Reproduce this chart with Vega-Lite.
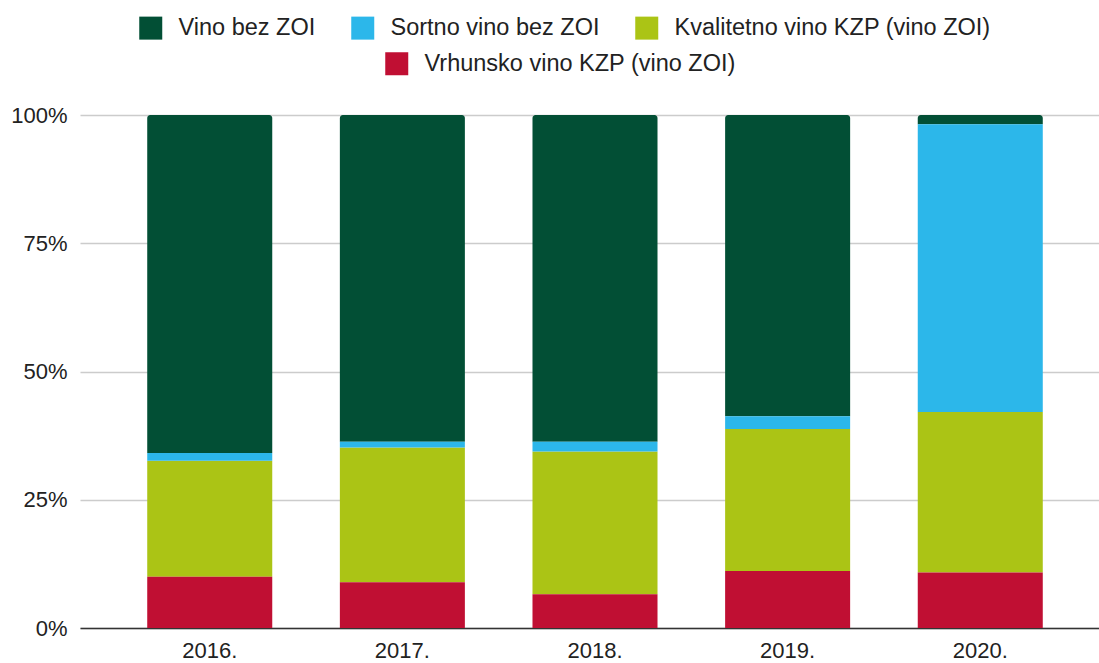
{
  "$schema": "https://vega.github.io/schema/vega-lite/v6.json",
  "autosize": {"type": "none"},
  "padding": {"left": 80, "top": 115, "right": 0, "bottom": 35},
  "width": 1019,
  "height": 513,
  "background": "#ffffff",
  "config": {
    "view": {"stroke": null},
    "font": "Liberation Sans",
    "axis": {"labelFont": "Liberation Sans", "labelColor": "#222222", "labelFontSize": 22},
    "legend": {"labelFont": "Liberation Sans", "labelColor": "#222222", "labelFontSize": 23.5}
  },
  "data": {
    "values": [
      {"year": "2016.", "category": "Vrhunsko vino KZP (vino ZOI)", "rank": 1, "value": 10.0},
      {"year": "2016.", "category": "Kvalitetno vino KZP (vino ZOI)", "rank": 2, "value": 22.6},
      {"year": "2016.", "category": "Sortno vino bez ZOI", "rank": 3, "value": 1.5},
      {"year": "2016.", "category": "Vino bez ZOI", "rank": 4, "value": 65.9},
      {"year": "2017.", "category": "Vrhunsko vino KZP (vino ZOI)", "rank": 1, "value": 8.9},
      {"year": "2017.", "category": "Kvalitetno vino KZP (vino ZOI)", "rank": 2, "value": 26.3},
      {"year": "2017.", "category": "Sortno vino bez ZOI", "rank": 3, "value": 1.1},
      {"year": "2017.", "category": "Vino bez ZOI", "rank": 4, "value": 63.7},
      {"year": "2018.", "category": "Vrhunsko vino KZP (vino ZOI)", "rank": 1, "value": 6.6},
      {"year": "2018.", "category": "Kvalitetno vino KZP (vino ZOI)", "rank": 2, "value": 27.8},
      {"year": "2018.", "category": "Sortno vino bez ZOI", "rank": 3, "value": 1.9},
      {"year": "2018.", "category": "Vino bez ZOI", "rank": 4, "value": 63.7},
      {"year": "2019.", "category": "Vrhunsko vino KZP (vino ZOI)", "rank": 1, "value": 11.1},
      {"year": "2019.", "category": "Kvalitetno vino KZP (vino ZOI)", "rank": 2, "value": 27.7},
      {"year": "2019.", "category": "Sortno vino bez ZOI", "rank": 3, "value": 2.5},
      {"year": "2019.", "category": "Vino bez ZOI", "rank": 4, "value": 58.7},
      {"year": "2020.", "category": "Vrhunsko vino KZP (vino ZOI)", "rank": 1, "value": 10.8},
      {"year": "2020.", "category": "Kvalitetno vino KZP (vino ZOI)", "rank": 2, "value": 31.3},
      {"year": "2020.", "category": "Sortno vino bez ZOI", "rank": 3, "value": 56.1},
      {"year": "2020.", "category": "Vino bez ZOI", "rank": 4, "value": 1.8}
    ]
  },
  "transform": [
    {"stack": "value", "groupby": ["year"], "sort": [{"field": "rank", "order": "ascending"}], "as": ["y0", "y1"], "offset": "normalize"}
  ],
  "encoding": {
    "x": {
      "field": "year", "type": "nominal", "sort": null,
      "scale": {"range": [0, 1030], "paddingInner": 0.351, "paddingOuter": 0.349},
      "axis": {"title": null, "labelAngle": 0, "ticks": false, "labelPadding": 12, "domain": true, "domainColor": "#333333", "domainWidth": 1.5, "grid": false}
    },
    "y": {
      "field": "y0", "type": "quantitative",
      "scale": {"domain": [0, 1], "nice": false},
      "axis": {"title": null, "values": [0, 0.25, 0.5, 0.75, 1], "format": ".0%", "ticks": false, "domain": false, "labelPadding": 13, "grid": true, "gridColor": "#cccccc", "gridWidth": 1.4}
    },
    "y2": {"field": "y1"}
  },
  "layer": [
    {
      "layer": [
        {
          "transform": [{"filter": "datum.rank === 4"}],
          "mark": {"type": "bar", "cornerRadiusTopLeft": 3, "cornerRadiusTopRight": 3},
          "encoding": {
            "color": {
              "field": "category", "type": "nominal",
              "scale": {"domain": ["Vino bez ZOI", "Sortno vino bez ZOI", "Kvalitetno vino KZP (vino ZOI)"], "range": ["#024f35", "#2cb7ea", "#abc415"]},
              "legend": {"orient": "none", "legendX": 59, "legendY": -99, "direction": "horizontal", "title": null, "symbolType": "square", "symbolSize": 529, "symbolStrokeWidth": 0, "symbolOpacity": 1, "labelOffset": 16, "columnPadding": 35, "labelLimit": 500}
            }
          }
        },
        {
          "transform": [{"filter": "datum.rank === 2 || datum.rank === 3"}],
          "mark": {"type": "bar"},
          "encoding": {
            "color": {
              "field": "category", "type": "nominal",
              "scale": {"domain": ["Vino bez ZOI", "Sortno vino bez ZOI", "Kvalitetno vino KZP (vino ZOI)"], "range": ["#024f35", "#2cb7ea", "#abc415"]}
            }
          }
        }
      ]
    },
    {
      "transform": [{"filter": "datum.rank === 1"}],
      "mark": {"type": "bar"},
      "encoding": {
        "color": {
          "field": "category", "type": "nominal",
          "scale": {"domain": ["Vrhunsko vino KZP (vino ZOI)"], "range": ["#c00f33"]},
          "legend": {"orient": "none", "legendX": 305, "legendY": -63, "direction": "horizontal", "title": null, "symbolType": "square", "symbolSize": 529, "symbolStrokeWidth": 0, "symbolOpacity": 1, "labelOffset": 16, "labelLimit": 500}
        }
      }
    }
  ],
  "resolve": {"scale": {"color": "independent"}}
}
